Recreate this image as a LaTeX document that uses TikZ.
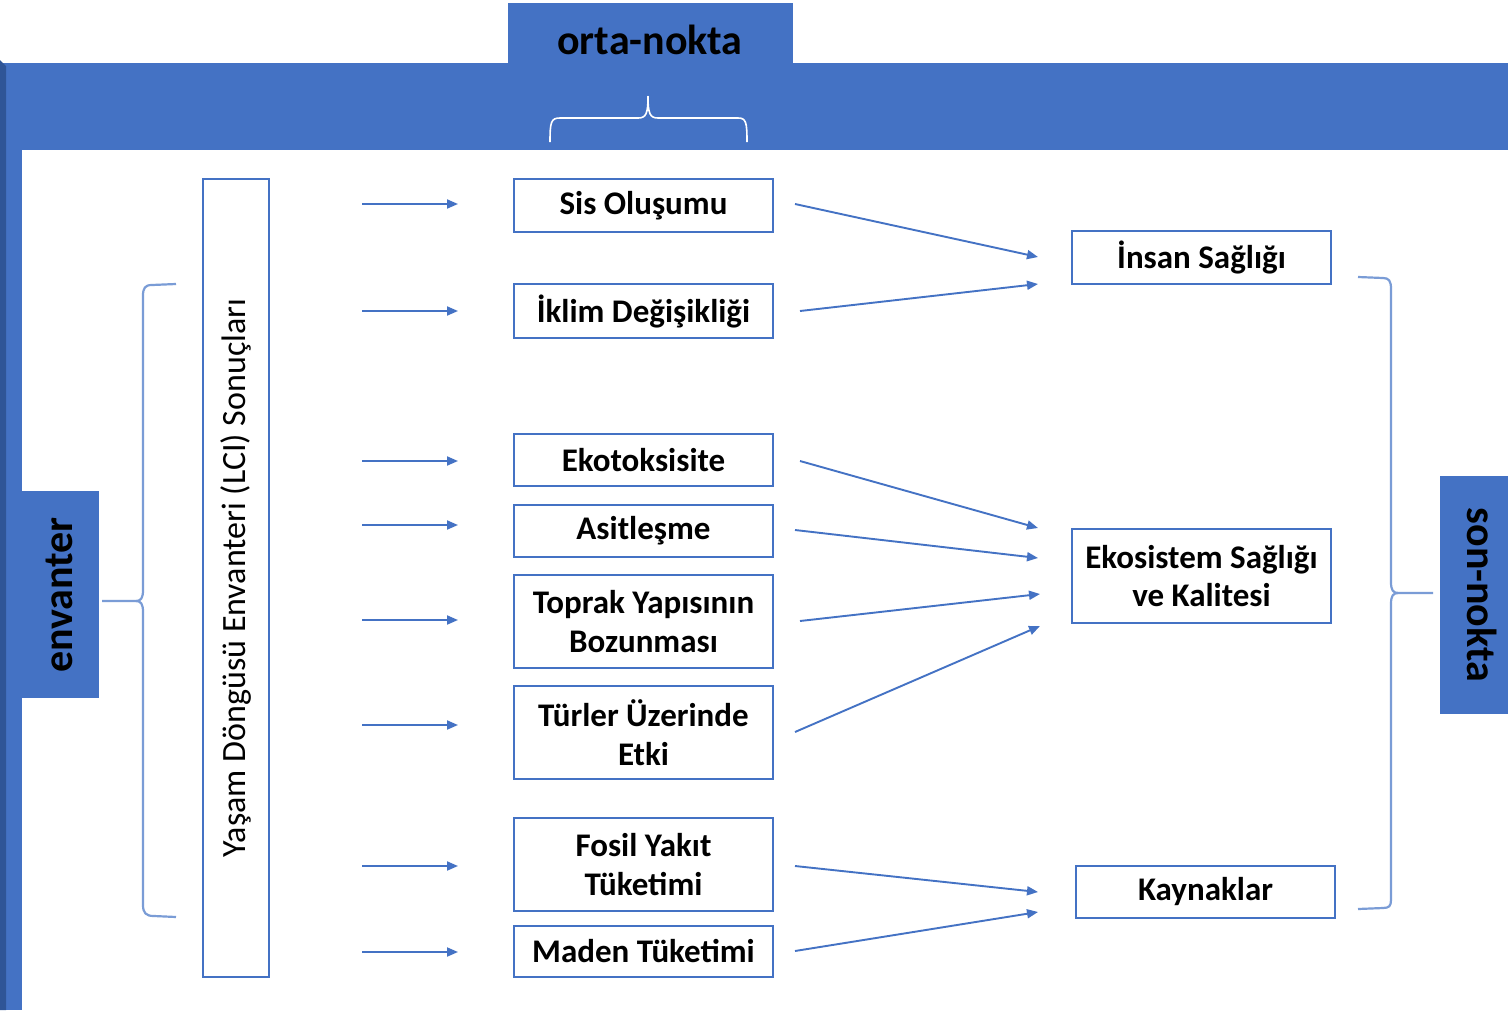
\documentclass[tikz,border=0pt]{standalone}
\usepackage{fontspec}
\setmainfont{Carlito}
\usetikzlibrary{arrows.meta}
\definecolor{accent}{HTML}{4472C4}
\definecolor{accentdark}{HTML}{2F5597}
\definecolor{bracecol}{HTML}{7A9CD6}
\begin{document}
\begin{tikzpicture}[x=1pt,y=-1pt,
  impact/.style={draw=accent, line width=1.8pt, fill=white, minimum width=259pt,
    inner sep=0pt, align=center, font=\bfseries\fontsize{33}{38.5}\selectfont},
  conn/.style={draw=accent, line width=1.9pt, -{Triangle[length=11pt,width=9pt]}},
  tag/.style={font=\bfseries\fontsize{42}{50}\selectfont, text=black, inner sep=0pt},
  brc/.style={draw=bracecol, line width=2.2pt},
  topbrc/.style={draw=white, line width=1.6pt}
]
\useasboundingbox (0,0) rectangle (1508,1010);
\fill[white] (0,0) rectangle (1508,1010);

% frame bands
\fill[accent] (0,63) rectangle (1508,150);
\fill[accent] (0,63) rectangle (22,1010);
\fill[accentdark] (0,60) -- (6,66) -- (6,1010) -- (0,1010) -- cycle;

% tag boxes
\fill[accent] (508,3) rectangle (793,63);
\node[tag] (orta) at (650,40) {orta-nokta};
\fill[accent] (22,491) rectangle (99,698);
\node[tag, rotate=90] (envanter) at (59,595) {envanter};
\fill[accent] (1440,476) rectangle (1508,714);
\node[tag, rotate=-90] (sonnokta) at (1482,595) {son-nokta};

% brace under the middle tag
\draw[topbrc] (550,142) .. controls (550,122) and (551,118) .. (560,118) -- (638,118)
  .. controls (646,118) and (648,114) .. (648,96);
\draw[topbrc] (648,96) .. controls (648,114) and (650,118) .. (658,118) -- (738,118)
  .. controls (746,118) and (747,122) .. (747,142);

% left brace
\draw[brc] (176,284) -- (152,285) .. controls (145,285) and (143,288) .. (143,296) -- (143,590)
  .. controls (143,598) and (141,601) .. (136,601) -- (102,601);
\draw[brc] (136,601) .. controls (141,601) and (143,604) .. (143,612) -- (143,905)
  .. controls (143,913) and (146,916) .. (154,916) -- (176,917);

% right brace
\draw[brc] (1358,277) -- (1383,278) .. controls (1389,278) and (1391,281) .. (1391,289) -- (1391,582)
  .. controls (1391,590) and (1393,593) .. (1398,593) -- (1433,593);
\draw[brc] (1398,593) .. controls (1393,593) and (1391,596) .. (1391,604) -- (1391,900)
  .. controls (1391,906) and (1389,908) .. (1383,908) -- (1358,909);

% inventory results column
\node[draw=accent, line width=1.8pt, rotate=90, minimum width=798pt, minimum height=66pt,
  inner sep=0pt, font=\fontsize{34}{40}\selectfont] (lci) at (236,578)
  {Yaşam Döngüsü Envanteri (LCI) Sonuçları};

% midpoint categories
\node[impact, minimum height=53pt] (sis)    at (643.5,205.5) {Sis Oluşumu};
\node[impact, minimum height=54pt] (iklim)  at (643.5,311)   {İklim Değişikliği};
\node[impact, minimum height=52pt] (eko)    at (643.5,460)   {Ekotoksisite};
\node[impact, minimum height=52pt] (asit)   at (643.5,531)   {Asitleşme};
\node[impact, minimum height=93pt] (toprak) at (643.5,621.5) {Toprak Yapısının\\Bozunması};
\node[impact, minimum height=93pt] (turler) at (643.5,732.5) {Türler Üzerinde\\Etki};
\node[impact, minimum height=93pt] (fosil)  at (643.5,864.5) {Fosil Yakıt\\Tüketimi};
\node[impact, minimum height=51pt] (maden)  at (643.5,951.5) {Maden Tüketimi};

% endpoint categories
\node[impact, minimum height=53pt] (insan)  at (1201.5,257.5) {İnsan Sağlığı};
\node[impact, minimum height=94pt] (ekosis) at (1201.5,576)   {Ekosistem Sağlığı\\ve Kalitesi};
\node[impact, minimum height=52pt] (kaynak) at (1205.5,892)   {Kaynaklar};

% inputs from the inventory
\foreach \n/\y in {1/204,2/311,3/461,4/525,5/620,6/725,7/866,8/952}{
  \coordinate (in\n s) at (362,\y);
  \coordinate (in\n e) at (458,\y);
  \draw[conn] (in\n s) -- (in\n e);
}

% midpoint to endpoint links
\coordinate (l1s) at (795,204);  \coordinate (l1e) at (1038,257);
\coordinate (l2s) at (800,311);  \coordinate (l2e) at (1038,284);
\coordinate (l3s) at (800,461);  \coordinate (l3e) at (1038,528);
\coordinate (l4s) at (795,530);  \coordinate (l4e) at (1038,558);
\coordinate (l5s) at (800,621);  \coordinate (l5e) at (1040,594);
\coordinate (l6s) at (795,732);  \coordinate (l6e) at (1040,626);
\coordinate (l7s) at (795,866);  \coordinate (l7e) at (1038,892);
\coordinate (l8s) at (795,951);  \coordinate (l8e) at (1038,912);
\foreach \n in {1,...,8}{
  \draw[conn] (l\n s) -- (l\n e);
}
\end{tikzpicture}
\end{document}
